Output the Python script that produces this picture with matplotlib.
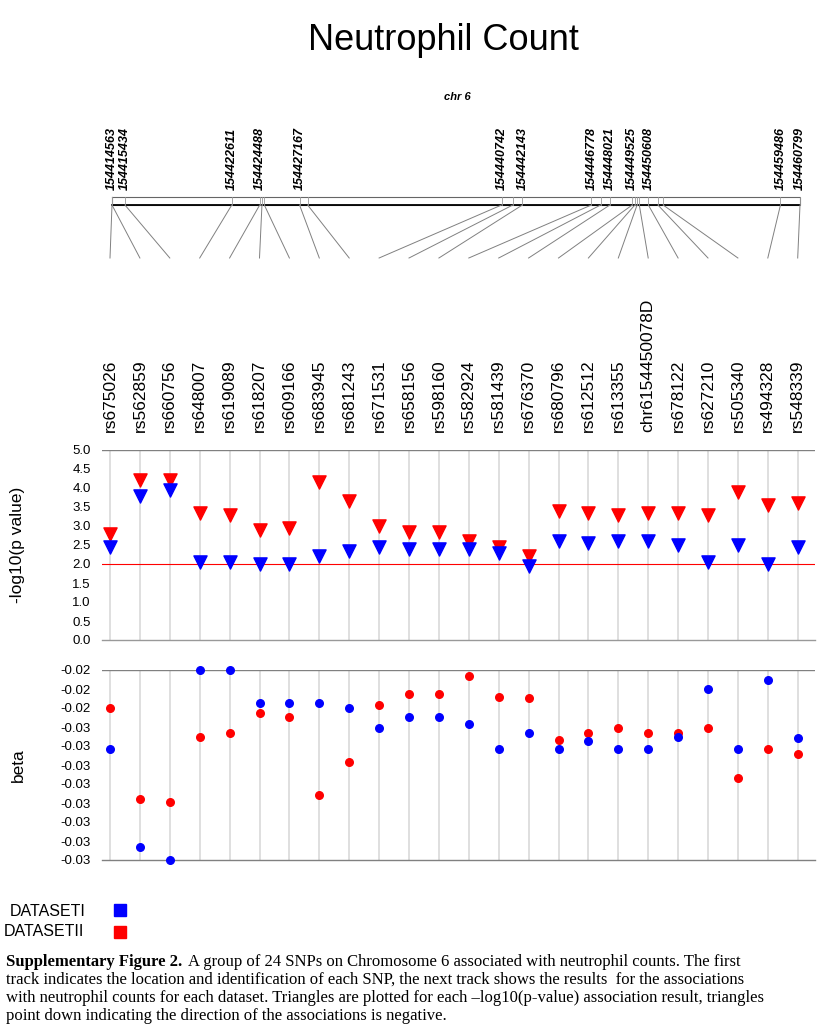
import numpy as np
import matplotlib.pyplot as plt

plt.rcParams['font.family'] = ['Liberation Sans', 'DejaVu Sans']

snps = ['rs675026', 'rs562859', 'rs660756', 'rs648007', 'rs619089', 'rs618207', 'rs609166',
        'rs683945', 'rs681243', 'rs671531', 'rs658156', 'rs598160', 'rs582924', 'rs581439',
        'rs676370', 'rs680796', 'rs612512', 'rs613355', 'chr6154450078D', 'rs678122',
        'rs627210', 'rs505340', 'rs494328', 'rs548339']
snp_pos = [154414563, 154414563, 154415434, 154422611, 154424488, 154424640, 154424800,
           154427167, 154427710, 154440742, 154441500, 154442143, 154446778, 154447400,
           154448021, 154449525, 154449700, 154449850, 154450000, 154450608, 154451250,
           154451600, 154459486, 154460799]
pos_labels = [154414563, 154415434, 154422611, 154424488, 154427167, 154440742, 154442143,
              154446778, 154448021, 154449525, 154450608, 154459486, 154460799]
logp_1 = [2.45, 3.8, 3.95, 2.05, 2.05, 2.0, 2.0, 2.2, 2.35, 2.45, 2.4, 2.4,
          2.4, 2.3, 1.95, 2.6, 2.55, 2.6, 2.6, 2.5, 2.05, 2.5, 2.0, 2.45]
logp_2 = [2.8, 4.2, 4.2, 3.35, 3.3, 2.9, 2.95, 4.15, 3.65, 3.0, 2.85, 2.85,
          2.6, 2.45, 2.2, 3.4, 3.35, 3.3, 3.35, 3.35, 3.3, 3.9, 3.55, 3.6]
beta_1 = [-0.0262, -0.0340, -0.0350, -0.0200, -0.0200, -0.0226, -0.0226, -0.0226, -0.0230,
          -0.0246, -0.0237, -0.0237, -0.0243, -0.0262, -0.0250, -0.0262, -0.0256, -0.0262,
          -0.0262, -0.0253, -0.0215, -0.0262, -0.0208, -0.0254]
beta_2 = [-0.0230, -0.0302, -0.0304, -0.0253, -0.0250, -0.0234, -0.0237, -0.0299, -0.0273,
          -0.0228, -0.0219, -0.0219, -0.0205, -0.0221, -0.0222, -0.0255, -0.0250, -0.0246,
          -0.0250, -0.0250, -0.0246, -0.0285, -0.0262, -0.0266]
beta_ticks = list(np.linspace(-0.020, -0.035, 11))
beta_ticklabels = ['-0.02'] * 3 + ['-0.03'] * 8

W, H = 834, 1035
fig = plt.figure(figsize=(W / 100, H / 100), dpi=100)
top = fig.add_axes([0, 0, 1, 1])
top.set_xlim(0, W)
top.set_ylim(H, 0)
top.axis('off')

col_x0, col_dx = 110, 29.9
chr_x0, chr_x1 = 112, 800
start, end = min(snp_pos), max(snp_pos)
def chr_x(p):
    return chr_x0 + (p - start) / (end - start) * (chr_x1 - chr_x0)

top.text(443, 40, 'Neutrophil Count', ha='center', va='center', fontsize=26)
top.text(457, 97, 'chr 6', ha='center', va='center', fontsize=8, style='italic', weight='bold')
for p in pos_labels:
    top.text(chr_x(p), 190, str(p), rotation=90, ha='center', va='bottom', fontsize=9,
             style='italic', weight='bold')
# chromosome box
top.plot([chr_x0, chr_x1, chr_x1, chr_x0, chr_x0], [197, 197, 205, 205, 197], color='0.4', lw=0.8)
top.plot([chr_x0, chr_x1], [204.5, 204.5], color='k', lw=1.3)
for i, p in enumerate(snp_pos):
    x = chr_x(p)
    top.plot([x, x], [197, 205], color='0.6', lw=0.6)
    top.plot([x, col_x0 + i * col_dx], [205, 258], color='0.5', lw=0.7)
    top.text(col_x0 + i * col_dx, 432, snps[i], rotation=90, ha='center', va='bottom', fontsize=12.5)

xl = ((102 - col_x0) / col_dx, (815 - col_x0) / col_dx)
xs = np.arange(len(snps))

ax1 = fig.add_axes([102 / W, 1 - 640 / H, 713 / W, 190 / H])
ax1.set_xlim(*xl)
ax1.set_ylim(0, 5)
for x in xs:
    ax1.axvline(x, color='0.85', lw=1.2, zorder=0)
ax1.axhline(5, color='0.5', lw=1)
ax1.axhline(0, color='0.6', lw=1, clip_on=False)
ax1.axhline(2, color='red', lw=0.8)
ax1.scatter(xs, logp_2, marker='v', s=90, color='red', zorder=3)
ax1.scatter(xs, logp_1, marker='v', s=90, color='blue', zorder=3)
ax1.set_yticks(np.arange(0, 5.01, 0.5))
ax1.set_yticklabels([f'{v:.1f}' for v in np.arange(0, 5.01, 0.5)], fontsize=9.5)
ax1.set_xticks([])
ax1.tick_params(axis='y', length=0, pad=8)
for s in ax1.spines.values():
    s.set_visible(False)
fig.text(18 / W, 1 - 545 / H, '-log10(p value)', rotation=90, ha='center', va='center', fontsize=12.5)

ax2 = fig.add_axes([102 / W, 1 - 860 / H, 713 / W, 190 / H])
ax2.set_xlim(*xl)
ax2.set_ylim(-0.035, -0.020)
for x in xs:
    ax2.axvline(x, color='0.85', lw=1.2, zorder=0)
ax2.axhline(-0.020, color='0.5', lw=1)
ax2.axhline(-0.035, color='0.5', lw=1, clip_on=False)
ax2.scatter(xs, beta_2, s=30, color='red', zorder=3, clip_on=False)
ax2.scatter(xs, beta_1, s=30, color='blue', zorder=3, clip_on=False)
ax2.set_yticks(beta_ticks)
ax2.set_yticklabels(beta_ticklabels, fontsize=9.5)
ax2.set_xticks([])
ax2.tick_params(axis='y', length=0, pad=8)
for s in ax2.spines.values():
    s.set_visible(False)
fig.text(18 / W, 1 - 765 / H, 'beta', rotation=90, ha='center', va='center', fontsize=12.5)

top.text(10, 911, 'DATASETI', va='center', fontsize=11.5)
top.add_patch(plt.Rectangle((114, 904), 12, 12, color='blue'))
top.text(4, 932, 'DATASETII', va='center', fontsize=11.5)
top.add_patch(plt.Rectangle((114, 926), 12, 12, color='red'))

lines = ['A group of 24 SNPs on Chromosome 6 associated with neutrophil counts. The first',
         'track indicates the location and identification of each SNP, the next track shows the results  for the associations',
         'with neutrophil counts for each dataset. Triangles are plotted for each \u2013log10(p-value) association result, triangles',
         'point down indicating the direction of the associations is negative.']
serif = ['Liberation Serif', 'DejaVu Serif']
bold = top.text(6, 962, 'Supplementary Figure 2.', va='center', fontsize=12, weight='bold', family=serif)
fig.canvas.draw()
bb = bold.get_window_extent()
top.text(bb.x1 + 6, 962, lines[0], va='center', fontsize=12, family=serif)
for k, ln in enumerate(lines[1:]):
    top.text(6, 980 + 18 * k, ln, va='center', fontsize=12, family=serif)

fig.savefig('out.png', dpi=100)
